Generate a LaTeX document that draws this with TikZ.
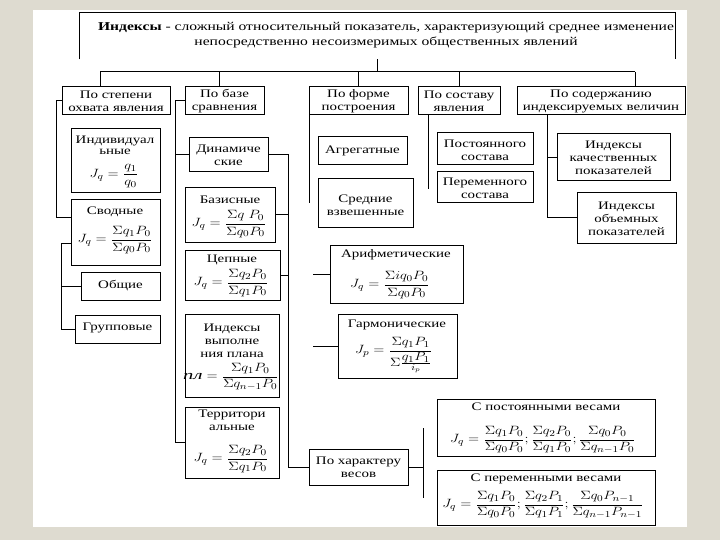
\documentclass[tikz,border=0pt]{standalone}
\usepackage{fontspec}
\setmainfont{Liberation Serif}[FakeStretch=1.3]
\definecolor{bgc}{RGB}{222,219,208}
\newcommand{\myfm}[1]{\scalebox{1.22}[1]{$\displaystyle #1$}}
\begin{document}
\begin{tikzpicture}[x=1pt,y=-1pt,line width=1pt,
  bx/.style={draw, inner sep=0pt},
  tx/.style={inner sep=0pt, align=center, font=\fontsize{11.5}{13}\selectfont},
  fm/.style={inner sep=0pt, font=\fontsize{13}{15}\selectfont},
  fms/.style={inner sep=0pt, font=\fontsize{12.5}{14}\selectfont}]
\useasboundingbox (0,0) rectangle (720,540);
\fill[bgc] (0,0) rectangle (720,540);
\fill[white] (33,10) rectangle (687,527);

% header
\node[inner sep=0pt, minimum width=595pt, minimum height=46pt] (hdr) at (377.5,36) {};
\draw (hdr.south west) -- (hdr.north west) -- (hdr.north east) -- (hdr.south east);
\node[inner sep=0pt, align=center, font=\fontsize{12}{15}\selectfont] (hdrt) at (386,35.5)
 {\textbf{Индексы} - сложный относительный показатель, характеризующий среднее изменение\\непосредственно несоизмеримых общественных явлений};

% category boxes
\node[bx, minimum width=108pt, minimum height=28pt] (c1) at (116,101) {};
\node[bx, minimum width=79pt, minimum height=28pt] (c2) at (224.5,101) {};
\node[bx, minimum width=99pt, minimum height=28pt] (c3) at (358.5,101) {};
\node[bx, minimum width=82pt, minimum height=28pt] (c4) at (459,101) {};
\node[bx, minimum width=168pt, minimum height=28pt] (c5) at (601,101) {};
\node[tx] (c1t) at (116,101) {По степени\\охвата явления};
\node[tx] (c2t) at (224.5,101) {По базе\\сравнения};
\node[tx] (c3t) at (358.5,101) {По форме\\построения};
\node[tx] (c4t) at (459,101) {По составу\\явления};
\node[tx] (c5t) at (601,101) {По содержанию\\индексируемых величин};

% column 1
\node[bx, minimum width=89pt, minimum height=64pt] (ind) at (115.5,161) {};
\node[bx, minimum width=89pt, minimum height=65pt] (svod) at (115.5,232.5) {};
\node[bx, minimum width=79pt, minimum height=28pt] (obsh) at (120.5,286) {};
\node[bx, minimum width=85pt, minimum height=28pt] (grup) at (117.5,329) {};
\node[tx, font=\fontsize{11.5}{11}\selectfont] (indt) at (115,145) {Индивидуал\\ьные};
\node[fm] (indf) at (114,176) {\myfm{J_q=\frac{q_1}{q_0}}};
\node[tx] (svodt) at (115,212) {Сводные};
\node[fm] (svodf) at (115,240) {\myfm{J_q=\frac{\Sigma q_1P_0}{\Sigma q_0P_0}}};
\node[tx] (obsht) at (120.5,286) {Общие};
\node[tx] (grupt) at (117.5,328) {Групповые};

% column 2
\node[bx, minimum width=79pt, minimum height=34pt] (din) at (228.5,155) {};
\node[bx, minimum width=90pt, minimum height=54pt] (baz) at (230,215) {};
\node[bx, minimum width=95pt, minimum height=50pt] (cep) at (232.5,275) {};
\node[bx, minimum width=94pt, minimum height=83pt] (plan) at (232,355.5) {};
\node[bx, minimum width=94pt, minimum height=71pt] (terr) at (232,442.5) {};
\node[tx] (dint) at (228.5,155) {Динамиче\\ские};
\node[tx] (bazt) at (230,200) {Базисные};
\node[fm] (bazf) at (229,224) {\myfm{J_q=\frac{\Sigma q\;P_0}{\Sigma q_0P_0}}};
\node[tx] (cept) at (232,260) {Цепные};
\node[fm] (cepf) at (231,283) {\myfm{J_q=\frac{\Sigma q_2P_0}{\Sigma q_1P_0}}};
\node[tx] (plant) at (232,341) {Индексы\\выполне\\ния плана};
\node[fm] (planf) at (231,377) {\myfm{\mbox{\itshape пл}=\frac{\Sigma q_1P_0}{\Sigma q_{n-1}P_0}}};
\node[tx] (terrt) at (232,420) {Территори\\альные};
\node[fm] (terrf) at (231,459) {\myfm{J_q=\frac{\Sigma q_2P_0}{\Sigma q_1P_0}}};

% column 3
\node[bx, minimum width=89pt, minimum height=28pt] (agr) at (362.5,151) {};
\node[bx, minimum width=95pt, minimum height=49pt] (sred) at (365.5,203.5) {};
\node[bx, minimum width=133pt, minimum height=58pt] (arif) at (396.5,274) {};
\node[bx, minimum width=119pt, minimum height=64pt] (garm) at (397.5,346) {};
\node[bx, minimum width=99pt, minimum height=36pt] (har) at (358.5,467) {};
\node[tx] (agrt) at (362.5,151) {Агрегатные};
\node[tx] (sredt) at (365.5,205) {Средние\\взвешенные};
\node[tx] (arift) at (396,255) {Арифметические};
\node[fm] (ariff) at (390,285) {\myfm{J_q=\frac{\Sigma iq_0P_0}{\Sigma q_0P_0}}};
\node[tx] (garmt) at (397,325) {Гармонические};
\node[fm] (garmf) at (394,355) {\myfm{J_p=\frac{\Sigma q_1P_1}{\Sigma\frac{\textstyle q_1P_1}{i_p}}}};
\node[tx] (hart) at (358.5,467) {По характеру\\весов};

% column 4
\node[bx, minimum width=96pt, minimum height=32pt] (post) at (485,149) {};
\node[bx, minimum width=96pt, minimum height=31pt] (perem) at (485,187.5) {};
\node[tx] (postt) at (485,150) {Постоянного\\состава};
\node[tx] (peremt) at (485,188.5) {Переменного\\состава};

% column 5
\node[bx, minimum width=113pt, minimum height=47pt] (kach) at (613.5,157.5) {};
\node[bx, minimum width=99pt, minimum height=50pt] (obem) at (626.5,218) {};
\node[tx] (kacht) at (613.5,158) {Индексы\\качественных\\показателей};
\node[tx] (obemt) at (626.5,219) {Индексы\\объемных\\показателей};

% weights
\node[bx, minimum width=218pt, minimum height=57pt] (spost) at (546,427.5) {};
\node[bx, minimum width=218pt, minimum height=55pt] (sper) at (546,497.5) {};
\node[tx] (spostt) at (546,407) {С постоянными весами};
\node[fms] (spostf) at (543,440) {\myfm{J_q=\frac{\Sigma q_1P_0}{\Sigma q_0P_0};\frac{\Sigma q_2P_0}{\Sigma q_1P_0};\frac{\Sigma q_0P_0}{\Sigma q_{n-1}P_0}}};
\node[tx] (spert) at (546,479) {С переменными весами};
\node[fms] (sperf) at (543,505) {\myfm{J_q=\frac{\Sigma q_1P_0}{\Sigma q_0P_0};\frac{\Sigma q_2P_1}{\Sigma q_1P_1};\frac{\Sigma q_0P_{n-1}}{\Sigma q_{n-1}P_{n-1}}}};

% connectors
\coordinate (bus) at (377,72);
\coordinate (busL) at (100,72);
\coordinate (busR) at (635,72);
\draw (hdr.south) -- (hdr.south |- bus);
\draw (busL) -- (busR);
\draw (busL) -- (busL |- c1.north);
\draw ([xshift=-5.5pt]c2.north) -- ([xshift=-5.5pt]c2.north |- bus);
\draw (c3.north) -- (c3.north |- bus);
\draw (c4.north) -- (c4.north |- bus);
\draw (busR) -- (busR |- c5.north);

\draw (c1.west) -- ++(-5,0) |- ([yshift=14.5pt]svod.west);
\draw ([yshift=-10.5pt]svod.west) -- ++(-9,0) |- (grup.west);
\coordinate (v1) at (62,0);
\draw (obsh.west) -- (obsh.west -| v1);

\draw (c2.west) -- ++(-9,0) |- (terr.west);
\coordinate (v2a) at (176,0);
\draw (din.west) -- (din.west -| v2a);
\draw (din.east) -- ++(20,0) |- (har.west);
\coordinate (v2b) at (288,0);
\draw (baz.east) -- (baz.east -| v2b);
\draw (cep.east) -- (cep.east -| v2b);

\draw ([xshift=0.5pt]c3.south west) -- ++(0,88);
\draw (arif.west) -- ++(-17,0);
\draw (garm.west) -- ++(-25,0);

\draw ([xshift=-31pt]c4.south) -- ++(0,74);

\draw ([xshift=-54pt]c5.south) |- (obem.west);
\coordinate (v5) at (547,0);
\draw (kach.west) -- (kach.west -| v5);

\draw (har.east) -- ++(15,0) coordinate (hj);
\coordinate (vt) at (423,428);
\coordinate (vb) at (423,498);
\draw (vt) -- (vb);
\end{tikzpicture}
\end{document}
